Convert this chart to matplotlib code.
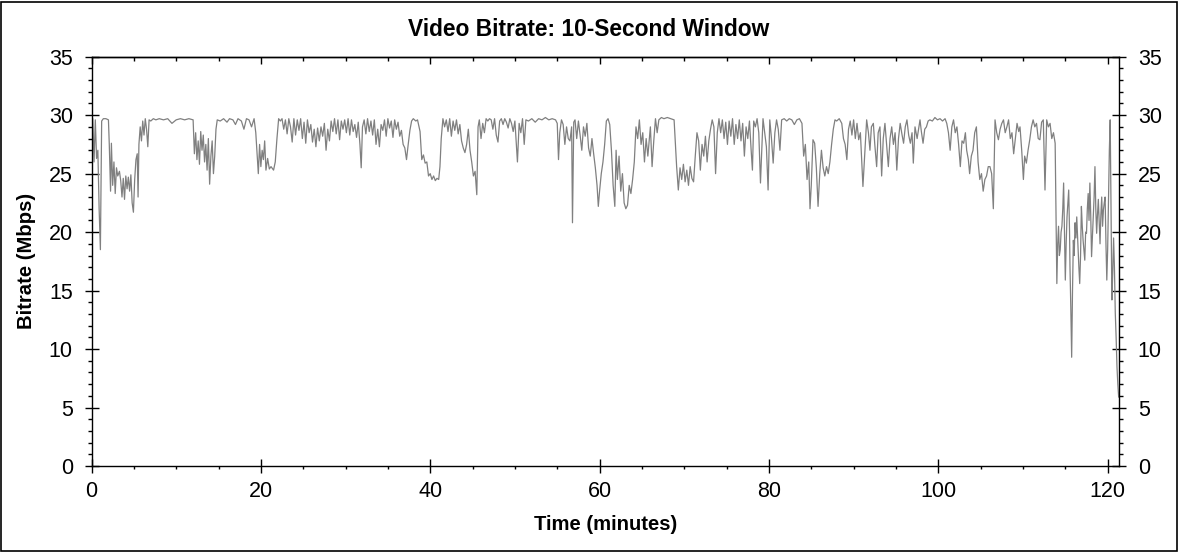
import matplotlib
matplotlib.use('Agg')
import matplotlib.pyplot as plt
from matplotlib.ticker import MultipleLocator
from matplotlib.patches import Rectangle

plt.rcParams['font.family'] = ['Liberation Sans', 'DejaVu Sans']

title = "Video Bitrate: 10-Second Window"
x_label = "Time (minutes)"
y_label = "Bitrate (Mbps)"

time_min = [
    0.0, 0.15, 0.3, 0.45, 0.6, 0.75, 0.9, 1.05, 1.2, 1.4, 1.7, 2.0, 2.1, 2.25, 2.35, 2.5, 2.65, 2.8, 2.95, 3.1,
    3.3, 3.45, 3.6, 3.75, 3.9, 4.05, 4.2, 4.35, 4.5, 4.65, 4.8, 4.95, 5.1, 5.25, 5.4, 5.5, 5.6, 5.75, 5.9, 6.05,
    6.2, 6.35, 6.5, 6.65, 6.8, 7.0, 7.3, 7.6, 8.0, 8.5, 9.0, 9.5, 10.0, 10.5, 11.0, 11.5, 12.0, 12.15, 12.3, 12.45,
    12.6, 12.75, 12.9, 13.05, 13.2, 13.35, 13.5, 13.65, 13.8, 13.95, 14.1, 14.25, 14.4, 14.55, 14.7, 14.85, 15.2, 15.6, 16.0, 16.3,
    16.7, 17.0, 17.3, 17.7, 18.0, 18.3, 18.6, 18.9, 19.2, 19.4, 19.55, 19.7, 19.85, 20.0, 20.15, 20.3, 20.45, 20.6, 20.8, 21.0,
    21.2, 21.5, 21.7, 21.9, 22.1, 22.3, 22.5, 22.7, 22.9, 23.1, 23.3, 23.5, 23.7, 23.9, 24.1, 24.3, 24.5, 24.7, 24.9, 25.1,
    25.3, 25.5, 25.7, 25.9, 26.1, 26.3, 26.5, 26.7, 26.9, 27.1, 27.3, 27.5, 27.7, 27.9, 28.1, 28.3, 28.5, 28.7, 28.9, 29.1,
    29.3, 29.5, 29.7, 29.9, 30.1, 30.3, 30.5, 30.7, 30.9, 31.1, 31.3, 31.5, 31.7, 31.85, 32.0, 32.2, 32.4, 32.6, 32.8, 33.0,
    33.2, 33.4, 33.6, 33.8, 34.0, 34.2, 34.4, 34.6, 34.8, 35.0, 35.2, 35.4, 35.6, 35.8, 36.0, 36.2, 36.4, 36.6, 36.8, 37.0,
    37.2, 37.4, 37.6, 37.8, 38.0, 38.3, 38.5, 38.8, 39.0, 39.2, 39.4, 39.6, 39.8, 40.0, 40.2, 40.4, 40.6, 40.8, 41.0, 41.15,
    41.3, 41.5, 41.7, 41.9, 42.1, 42.3, 42.5, 42.7, 42.9, 43.1, 43.3, 43.5, 43.7, 43.9, 44.1, 44.3, 44.5, 44.7, 44.9, 45.1,
    45.3, 45.5, 45.65, 45.8, 46.0, 46.2, 46.4, 46.6, 46.8, 47.0, 47.2, 47.4, 47.6, 47.8, 48.0, 48.2, 48.4, 48.6, 48.8, 49.0,
    49.2, 49.4, 49.6, 49.8, 50.0, 50.3, 50.5, 50.7, 50.9, 51.1, 51.3, 51.6, 52.0, 52.4, 52.8, 53.2, 53.6, 54.0, 54.4, 54.8,
    55.0, 55.15, 55.3, 55.5, 55.7, 55.9, 56.1, 56.3, 56.5, 56.7, 56.8, 56.95, 57.1, 57.3, 57.5, 57.7, 57.9, 58.1, 58.3, 58.5,
    58.7, 58.9, 59.1, 59.3, 59.5, 59.7, 59.85, 60.0, 60.2, 60.4, 60.6, 60.8, 61.0, 61.2, 61.4, 61.6, 61.8, 61.95, 62.1, 62.3,
    62.5, 62.7, 62.9, 63.1, 63.3, 63.5, 63.7, 63.9, 64.1, 64.3, 64.5, 64.7, 64.9, 65.1, 65.3, 65.5, 65.7, 66.0, 66.2, 66.4,
    66.6, 66.8, 67.0, 67.3, 67.6, 68.0, 68.4, 68.8, 69.1, 69.3, 69.5, 69.7, 69.9, 70.1, 70.3, 70.5, 70.7, 70.9, 71.1, 71.3,
    71.5, 71.7, 71.9, 72.1, 72.3, 72.5, 72.7, 72.9, 73.1, 73.3, 73.5, 73.7, 73.9, 74.1, 74.3, 74.5, 74.7, 74.9, 75.1, 75.3,
    75.5, 75.7, 75.9, 76.1, 76.3, 76.5, 76.7, 76.9, 77.1, 77.3, 77.5, 77.7, 77.9, 78.05, 78.2, 78.4, 78.6, 78.8, 79.0, 79.3,
    79.5, 79.7, 79.9, 80.1, 80.3, 80.5, 80.7, 80.9, 81.1, 81.3, 81.5, 81.8, 82.1, 82.4, 82.7, 83.0, 83.3, 83.6, 83.9, 84.1,
    84.3, 84.5, 84.7, 84.85, 85.0, 85.2, 85.4, 85.6, 85.8, 86.0, 86.2, 86.4, 86.6, 86.8, 87.0, 87.2, 87.4, 87.6, 87.8, 88.0,
    88.3, 88.6, 88.8, 89.0, 89.2, 89.4, 89.6, 89.8, 90.0, 90.2, 90.4, 90.6, 90.8, 91.1, 91.54, 91.75, 91.93, 92.1, 92.33, 92.5,
    92.72, 92.9, 93.11, 93.31, 93.5, 93.7, 93.9, 94.1, 94.3, 94.5, 94.7, 94.9, 95.1, 95.3, 95.5, 95.7, 95.9, 96.1, 96.3, 96.5,
    96.7, 96.9, 97.05, 97.25, 97.5, 97.84, 98.0, 98.2, 98.4, 98.6, 98.8, 99.0, 99.3, 99.6, 99.9, 100.2, 100.5, 100.8, 101.0, 101.2,
    101.4, 101.6, 101.8, 102.0, 102.2, 102.4, 102.6, 102.8, 103.0, 103.2, 103.35, 103.55, 103.7, 103.9, 104.1, 104.3, 104.5, 104.7, 104.9, 105.1,
    105.3, 105.5, 105.7, 105.9, 106.1, 106.3, 106.5, 106.7, 106.9, 107.1, 107.3, 107.5, 107.7, 107.9, 108.1, 108.3, 108.5, 108.7, 108.9, 109.1,
    109.3, 109.5, 109.65, 109.85, 110.05, 110.2, 110.4, 110.6, 110.8, 111.0, 111.2, 111.4, 111.6, 111.8, 112.0, 112.2, 112.4, 112.6, 112.8, 113.0,
    113.2, 113.4, 113.6, 113.8, 114.0, 114.1, 114.2, 114.3, 114.4, 114.5, 114.6, 114.7, 114.8, 114.9, 115.0, 115.1, 115.2, 115.3, 115.4, 115.5,
    115.55, 115.65, 115.75, 115.85, 115.95, 116.05, 116.15, 116.25, 116.35, 116.45, 116.5, 116.6, 116.7, 116.8, 116.9, 117.0, 117.1, 117.2, 117.3, 117.4,
    117.5, 117.6, 117.7, 117.8, 117.9, 118.0, 118.1, 118.2, 118.3, 118.4, 118.5, 118.6, 118.7, 118.8, 118.9, 119.0, 119.1, 119.2, 119.3, 119.4,
    119.5, 119.6, 119.7, 119.8, 119.9, 120.0, 120.1, 120.2, 120.3, 120.4, 120.5, 120.6, 120.7, 120.8, 120.9, 121.0, 121.1, 121.2, 121.3,
]

bitrate_mbps = [
    25.7, 29.7, 26.0, 29.6, 26.3, 27.0, 22.0, 18.5, 29.5, 29.7, 29.7, 29.6, 27.5, 23.5, 27.6, 24.0, 26.0, 23.3, 25.5, 24.8,
    25.2, 24.4, 23.0, 24.6, 22.8, 24.8, 23.7, 24.7, 23.5, 24.9, 22.5, 21.7, 24.5, 26.2, 26.7, 23.0, 27.5, 29.0, 27.8, 29.5,
    28.3, 29.7, 28.8, 27.3, 29.6, 29.5, 29.7, 29.6, 29.7, 29.6, 29.7, 29.3, 29.6, 29.7, 29.6, 29.7, 29.6, 26.7, 28.5, 26.2,
    27.8, 25.8, 28.6, 27.0, 28.3, 26.0, 27.5, 25.3, 28.0, 24.1, 26.5, 27.8, 25.0, 26.5, 28.8, 29.6, 29.5, 29.7, 29.4, 29.7,
    29.6, 29.2, 29.7, 29.5, 28.8, 29.7, 29.6, 29.0, 29.7, 28.5, 26.8, 25.0, 27.5, 25.6, 27.0, 26.2, 27.8, 25.3, 26.3, 25.4,
    25.6, 25.3, 26.0, 28.0, 29.7, 29.5, 29.7, 28.8, 29.6, 28.4, 29.7, 29.0, 27.7, 29.7, 28.3, 29.6, 28.7, 29.7, 28.0, 29.4,
    27.6, 29.6, 28.5, 29.2, 27.7, 28.8, 27.3, 28.9, 27.8, 29.0, 28.2, 29.3, 27.0, 28.8, 27.8, 29.5, 28.6, 29.7, 28.4, 29.6,
    27.9, 29.5, 28.8, 29.6, 28.5, 29.7, 28.3, 29.6, 28.6, 29.2, 28.1, 29.4, 27.5, 25.5, 29.0, 29.6, 28.4, 29.7, 28.6, 29.5,
    28.3, 29.6, 27.5, 28.8, 27.3, 29.2, 28.7, 29.6, 28.2, 29.7, 28.9, 29.5, 28.1, 29.6, 28.8, 29.4, 28.2, 28.7, 27.5, 27.2,
    26.2, 27.5, 28.7, 29.5, 29.7, 29.5, 29.6, 28.6, 26.2, 26.6, 25.9, 26.0, 24.8, 25.0, 24.5, 24.8, 24.4, 24.6, 24.5, 25.6,
    28.0, 29.7, 29.0, 29.6, 28.6, 29.7, 28.2, 29.5, 28.7, 29.6, 28.4, 29.2, 27.8, 27.2, 26.8, 27.5, 28.8, 27.0, 26.0, 24.8,
    25.2, 23.2, 29.0, 29.6, 28.0, 29.3, 28.5, 29.7, 29.5, 29.7, 29.6, 28.8, 29.7, 28.3, 27.7, 29.5, 29.7, 29.2, 29.7, 29.4,
    28.9, 29.7, 29.3, 28.6, 29.5, 26.0, 29.3, 28.5, 29.7, 27.5, 29.6, 29.5, 29.7, 29.4, 29.7, 29.6, 29.8, 29.6, 29.7, 29.6,
    29.3, 26.2, 28.5, 29.6, 29.2, 27.5, 29.0, 28.0, 27.8, 29.0, 20.8, 29.4, 29.6, 28.0, 29.5, 28.3, 27.0, 29.0, 28.2, 29.3,
    27.2, 26.5, 28.0, 26.7, 25.5, 24.0, 22.2, 23.5, 25.0, 26.0, 27.5, 29.5, 29.7, 29.2, 27.0, 24.0, 22.2, 27.0, 24.5, 26.5,
    23.5, 25.0, 22.5, 22.0, 22.3, 24.0, 23.3, 24.5, 26.0, 29.0, 28.0, 29.6, 27.5, 28.5, 26.0, 28.0, 26.5, 29.0, 25.6, 27.8,
    29.7, 28.5, 29.6, 29.8, 29.7, 29.8, 29.7, 29.6, 25.6, 23.6, 25.5, 24.5, 25.8, 24.3, 25.3, 24.0, 25.6, 24.6, 24.3, 26.5,
    28.5, 27.8, 25.3, 27.5, 26.5, 28.2, 26.0, 27.8, 28.8, 29.6, 29.0, 25.0, 28.5, 29.7, 28.5, 29.6, 28.0, 29.4, 27.5, 29.5,
    28.2, 29.7, 27.5, 29.2, 28.0, 29.6, 27.8, 29.3, 26.5, 29.0, 28.0, 29.5, 27.0, 25.3, 29.5, 29.0, 29.7, 28.5, 24.2, 29.7,
    28.5, 27.3, 23.6, 29.6, 28.0, 25.9, 28.5, 29.6, 28.8, 27.0, 29.6, 29.7, 29.5, 29.7, 29.6, 29.2, 29.6, 29.7, 29.3, 26.5,
    27.5, 24.5, 26.0, 22.0, 24.0, 27.9, 27.6, 25.5, 22.2, 25.0, 27.0, 25.5, 24.8, 25.6, 25.0, 26.0, 27.5, 28.8, 29.6, 29.5,
    29.7, 29.3, 28.0, 27.5, 26.2, 28.8, 29.5, 28.3, 29.6, 28.0, 29.3, 27.9, 28.5, 23.9, 29.6, 28.5, 27.0, 29.0, 29.3, 27.5,
    25.6, 28.5, 29.0, 24.8, 28.0, 29.3, 27.5, 25.6, 28.0, 29.0, 27.5, 28.5, 25.3, 28.0, 29.3, 28.4, 27.6, 29.0, 29.6, 28.3,
    27.6, 28.5, 25.9, 29.0, 28.0, 29.6, 28.6, 27.6, 28.8, 29.0, 29.5, 29.6, 29.5, 29.8, 29.6, 29.7, 29.5, 29.7, 29.3, 28.5,
    27.0, 29.0, 29.6, 28.5, 29.0, 27.5, 25.6, 27.8, 27.6, 28.5, 27.0, 26.2, 25.0, 26.5, 27.0, 28.5, 29.0, 26.0, 24.5, 25.0,
    23.5, 24.5, 24.8, 25.6, 25.6, 25.0, 22.0, 29.6, 28.5, 27.9, 28.8, 29.3, 29.6, 28.5, 29.0, 29.6, 28.0, 28.5, 26.7, 28.0,
    29.3, 28.6, 29.0, 27.0, 24.5, 26.5, 25.9, 27.0, 27.9, 29.0, 29.6, 29.0, 29.3, 28.0, 27.9, 29.4, 29.6, 23.6, 29.6, 29.0,
    29.3, 28.0, 28.5, 27.6, 15.6, 19.0, 20.5, 18.0, 18.5, 20.0, 20.5, 22.0, 24.2, 20.0, 15.9, 19.0, 21.3, 22.5, 23.6, 20.0,
    17.1, 13.5, 9.3, 15.0, 19.3, 18.0, 20.8, 19.5, 21.3, 19.5, 18.5, 17.0, 15.6, 18.0, 22.2, 20.5, 19.3, 18.5, 17.6, 20.0,
    19.9, 22.0, 23.3, 21.0, 24.2, 21.5, 17.9, 19.5, 21.3, 23.0, 25.6, 22.0, 19.9, 21.5, 22.8, 21.0, 19.0, 21.5, 23.0, 20.5,
    21.9, 22.5, 23.0, 19.0, 15.9, 18.5, 22.8, 27.0, 29.6, 22.0, 14.2, 16.5, 19.5, 17.0, 13.1, 11.0, 8.5, 7.0, 5.9,
]

W, H = 1178, 552
fig = plt.figure(figsize=(W / 100, H / 100), dpi=100)
ax = fig.add_axes([91.5 / W, 86 / H, (1119 - 91.5) / W, (466 - 56.7) / H])

ax.plot(time_min, bitrate_mbps, color='#808080', lw=0.9)

ax.set_xlim(0, 121.34)
ax.set_ylim(0, 35)
ax.xaxis.set_major_locator(MultipleLocator(20))
ax.xaxis.set_minor_locator(MultipleLocator(5))
ax.yaxis.set_major_locator(MultipleLocator(5))
ax.yaxis.set_minor_locator(MultipleLocator(1))

for s in ax.spines.values():
    s.set_linewidth(1.0)

ax.tick_params(axis='both', which='major', direction='inout', length=10, width=1.0,
               labelsize=15.5, colors='black')
ax.tick_params(axis='x', which='minor', direction='out', length=2.3, width=1.0)
ax.tick_params(axis='y', which='minor', direction='out', length=3, width=1.0)
ax.tick_params(axis='y', which='both', left=True, right=True, labelleft=True, labelright=True, pad=8.5)
ax.tick_params(axis='x', which='both', top=False, pad=6)

sec = ax.secondary_xaxis('top')
sec.xaxis.set_major_locator(MultipleLocator(20))
sec.xaxis.set_minor_locator(MultipleLocator(5))
sec.tick_params(which='major', direction='in', length=5, width=1.0, labeltop=False)
sec.tick_params(which='minor', direction='in', length=3, width=1.0, labeltop=False)
sec.spines['top'].set_linewidth(1.0)

ax.set_xlabel(x_label, fontsize=14.6, fontweight='bold')
ax.xaxis.set_label_coords(0.5, -0.120)
ax.set_ylabel(y_label, fontsize=14.6, fontweight='bold')
ax.yaxis.set_label_coords(-0.054, 0.5)

fig.text(0.5, (H - 36) / H, title, ha='center', va='baseline', fontsize=16.4, fontweight='bold')

fig.patches.append(Rectangle((1 / W, 1 / H), (W - 2.5) / W, (H - 2.5) / H, transform=fig.transFigure,
                             fill=False, edgecolor='black', linewidth=1.2))

fig.savefig('out.png', dpi=100)
